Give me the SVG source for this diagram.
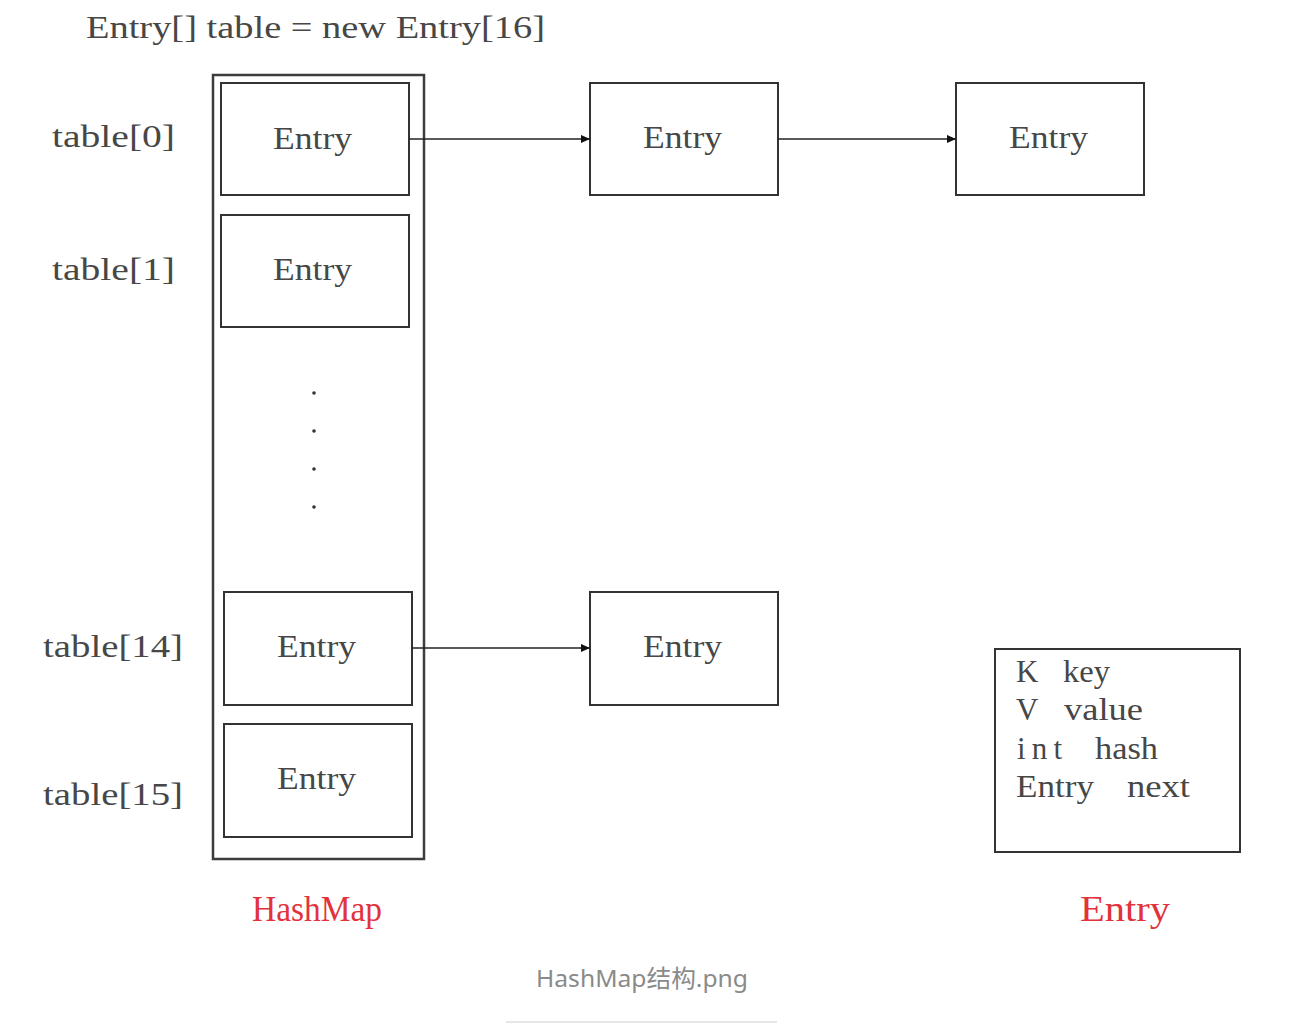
<svg xmlns="http://www.w3.org/2000/svg" width="1302" height="1034" viewBox="0 0 1302 1034">
<style>
  .t { font-family: "Liberation Serif", "DejaVu Serif", serif; font-size: 31px; fill: #474747; }
  .box { fill: #ffffff; stroke: #333333; stroke-width: 2; }
  .outer { fill: #ffffff; stroke: #3c3c3c; stroke-width: 2.5; }
  .red { font-family: "Liberation Serif", "DejaVu Serif", serif; font-size: 36px; fill: #e2323c; }
  .cap { font-family: "Noto Sans", "Noto Sans CJK SC", sans-serif; font-size: 24px; fill: #8a8a8a; }
  .edge { stroke: #222222; stroke-width: 1.6; fill: none; marker-end: url(#arr); }
</style>
<defs>
  <marker id="arr" viewBox="0 0 10 10" refX="10" refY="5" markerWidth="11" markerHeight="9" markerUnits="userSpaceOnUse" orient="auto">
    <path d="M0,0.5 L10,5 L0,9.5 z" fill="#111111"/>
  </marker>
</defs>
<rect width="1302" height="1034" fill="#ffffff"/>

<text class="t" x="86" y="38" textLength="459" lengthAdjust="spacingAndGlyphs">Entry[] table = new Entry[16]</text>

<g id="labels">
  <text class="t" x="52" y="147" textLength="123" lengthAdjust="spacingAndGlyphs">table[0]</text>
  <text class="t" x="52" y="280" textLength="123" lengthAdjust="spacingAndGlyphs">table[1]</text>
  <text class="t" x="43" y="657" textLength="140" lengthAdjust="spacingAndGlyphs">table[14]</text>
  <text class="t" x="43" y="805" textLength="140" lengthAdjust="spacingAndGlyphs">table[15]</text>
</g>

<g id="hashmap">
  <rect class="outer" x="213" y="75" width="211" height="784"/>
  <circle cx="314" cy="393" r="1.8" fill="#333"/>
  <circle cx="314" cy="431" r="1.8" fill="#333"/>
  <circle cx="314" cy="469" r="1.8" fill="#333"/>
  <circle cx="314" cy="507" r="1.8" fill="#333"/>
</g>

<g id="table0">
  <rect class="box" x="221" y="83" width="188" height="112"/>
  <text class="t" x="273" y="149" textLength="79" lengthAdjust="spacingAndGlyphs">Entry</text>
</g>
<g id="table1">
  <rect class="box" x="221" y="215" width="188" height="112"/>
  <text class="t" x="273" y="280" textLength="79" lengthAdjust="spacingAndGlyphs">Entry</text>
</g>
<g id="table14">
  <rect class="box" x="224" y="592" width="188" height="113"/>
  <text class="t" x="277" y="657" textLength="79" lengthAdjust="spacingAndGlyphs">Entry</text>
</g>
<g id="table15">
  <rect class="box" x="224" y="724" width="188" height="113"/>
  <text class="t" x="277" y="789" textLength="79" lengthAdjust="spacingAndGlyphs">Entry</text>
</g>

<g id="entry0b">
  <rect class="box" x="590" y="83" width="188" height="112"/>
  <text class="t" x="643" y="148" textLength="79" lengthAdjust="spacingAndGlyphs">Entry</text>
</g>
<g id="entry0c">
  <rect class="box" x="956" y="83" width="188" height="112"/>
  <text class="t" x="1009" y="148" textLength="79" lengthAdjust="spacingAndGlyphs">Entry</text>
</g>
<g id="entry14b">
  <rect class="box" x="590" y="592" width="188" height="113"/>
  <text class="t" x="643" y="657" textLength="79" lengthAdjust="spacingAndGlyphs">Entry</text>
</g>

<g id="connectors">
  <path class="edge" d="M409,139 L590,139"/>
  <path class="edge" d="M778,139 L956,139"/>
  <path class="edge" d="M412,648 L590,648"/>
</g>

<g id="entryDetail">
  <rect class="box" x="995" y="649" width="245" height="203"/>
  <text class="t" y="682"><tspan x="1016">K</tspan><tspan x="1063" textLength="47" lengthAdjust="spacingAndGlyphs">key</tspan></text>
  <text class="t" y="720"><tspan x="1016">V</tspan><tspan x="1064" textLength="79" lengthAdjust="spacingAndGlyphs">value</tspan></text>
  <text class="t" y="759"><tspan x="1017" textLength="45" lengthAdjust="spacing">int</tspan><tspan x="1095" textLength="63" lengthAdjust="spacingAndGlyphs">hash</tspan></text>
  <text class="t" y="797"><tspan x="1016" textLength="78" lengthAdjust="spacingAndGlyphs">Entry</tspan><tspan x="1127" textLength="63" lengthAdjust="spacingAndGlyphs">next</tspan></text>
</g>

<text class="red" x="252" y="921" textLength="130" lengthAdjust="spacingAndGlyphs">HashMap</text>
<text class="red" x="1080" y="921" textLength="90" lengthAdjust="spacingAndGlyphs">Entry</text>

<text class="cap" x="536" y="987" textLength="212" lengthAdjust="spacingAndGlyphs">HashMap结构.png</text>
<line x1="506" y1="1022" x2="777" y2="1022" stroke="#e6e6e6" stroke-width="2"/>
</svg>
